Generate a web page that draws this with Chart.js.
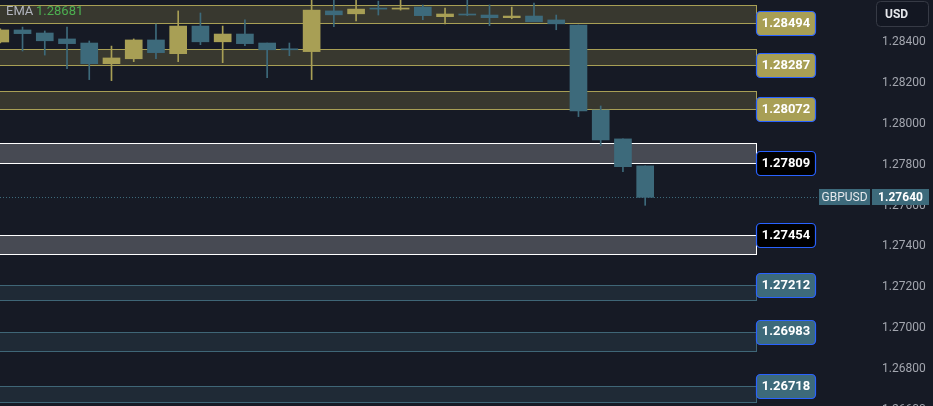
<!DOCTYPE html>
<html><head><meta charset="utf-8">
<script src="https://cdn.jsdelivr.net/npm/chart.js@4/dist/chart.umd.min.js"></script>
<style>html,body{margin:0;padding:0;background:#161a25;overflow:hidden}#wrap{width:933px;height:406px;position:relative}</style>
</head><body><div id="wrap"><canvas id="c" width="933" height="406"></canvas></div>
<script>
// ---- data ----
const candleIndex = [0,1,2,3,4,5,6,7,8,9,10,11,12,13,14,15,16,17,18,19,20,21,22,23,24,25,26,27,28,29];
const opens  = [1.28400,1.28459,1.28444,1.28415,1.28395,1.28294,1.28318,1.28410,1.28343,1.28478,1.28401,1.28439,1.28395,1.28366,1.28353,1.28552,1.28538,1.28566,1.28561,1.28571,1.28524,1.28537,1.28532,1.28519,1.28527,1.28508,1.28483,1.28067,1.27926,1.27794];
const highs  = [1.28464,1.28473,1.28454,1.28473,1.28405,1.28380,1.28415,1.28488,1.28552,1.28542,1.28478,1.28508,1.28395,1.28395,1.28620,1.28615,1.28615,1.28600,1.28610,1.28581,1.28566,1.28610,1.28581,1.28571,1.28591,1.28532,1.28483,1.28087,1.27926,1.27794];
const lows   = [1.28395,1.28356,1.28336,1.28269,1.28216,1.28211,1.28304,1.28318,1.28304,1.28387,1.28299,1.28382,1.28225,1.28333,1.28216,1.28475,1.28503,1.28532,1.28556,1.28509,1.28488,1.28529,1.28480,1.28514,1.28499,1.28460,1.28035,1.27893,1.27766,1.27601];
const closes = [1.28459,1.28441,1.28406,1.28392,1.28294,1.28322,1.28410,1.28348,1.28478,1.28401,1.28439,1.28392,1.28362,1.28362,1.28556,1.28533,1.28561,1.28561,1.28566,1.28529,1.28537,1.28532,1.28519,1.28527,1.28499,1.28489,1.28063,1.27921,1.27790,1.27640];

const zoneTops    = [1.28581,1.28366,1.28160,1.27906,1.27454,1.27212,1.26983,1.26718];
const zoneBottoms = [1.28494,1.28287,1.28072,1.27809,1.27363,1.27138,1.26888,1.26639];
const zoneLabels  = [1.28494,1.28287,1.28072,1.27809,1.27454,1.27212,1.26983,1.26718];
const zoneKinds   = ['gold','gold','gold','white','white','blue','blue','blue'];
const zoneEndIndex = 34;

const yTicks = [1.284,1.282,1.280,1.278,1.276,1.274,1.272,1.270,1.268,1.266];
const lastPrice = 1.27640;
const emaValue = 1.28681;
const symbol = 'GBPUSD';
const currency = 'USD';

// ---- styles ----
const BG = '#161a25';
const GOLD = '#a89f55';
const BLUE = '#3d6a7b';
const zoneStyle = {
  gold:  {fill:'#38382f', stroke:'#a89f55', pill:'#a89f55'},
  white: {fill:'#474a53', stroke:'#ffffff', pill:'#000000'},
  blue:  {fill:'#1f2a36', stroke:'#3f6677', pill:'#3d6a7b'}
};
const FONT = 'Roboto, "Noto Sans", sans-serif';

const candleColors = candleIndex.map((_, i) => closes[i] >= opens[i] ? GOLD : BLUE);
const bodyData = candleIndex.map((x, i) => ({x, y:[opens[i], closes[i]]}));
const wickData = candleIndex.map((x, i) => ({x, y:[lows[i], highs[i]]}));

function roundRect(ctx, x, y, w, h, r) {
  ctx.beginPath();
  ctx.moveTo(x + r, y);
  ctx.lineTo(x + w - r, y);
  ctx.arcTo(x + w, y, x + w, y + r, r);
  ctx.lineTo(x + w, y + h - r);
  ctx.arcTo(x + w, y + h, x + w - r, y + h, r);
  ctx.lineTo(x + r, y + h);
  ctx.arcTo(x, y + h, x, y + h - r, r);
  ctx.lineTo(x, y + r);
  ctx.arcTo(x, y, x + r, y, r);
  ctx.closePath();
}

const bgPlugin = {
  id: 'bg',
  beforeDraw(chart) {
    const ctx = chart.ctx;
    ctx.save(); ctx.fillStyle = BG; ctx.fillRect(0, 0, chart.width, chart.height); ctx.restore();
  }
};

const zonesPlugin = {
  id: 'zones',
  beforeDatasetsDraw(chart) {
    const {ctx, chartArea, scales:{x, y}} = chart;
    const xEnd = Math.round(x.getPixelForValue(zoneEndIndex)) + 0.5;
    ctx.save();
    zoneTops.forEach((t, i) => {
      const st = zoneStyle[zoneKinds[i]];
      const yt = Math.round(y.getPixelForValue(t)) + 0.5;
      const yb = Math.round(y.getPixelForValue(zoneBottoms[i])) + 0.5;
      ctx.fillStyle = st.fill;
      ctx.fillRect(chartArea.left, yt, xEnd - chartArea.left, yb - yt);
      ctx.strokeStyle = st.stroke;
      ctx.lineWidth = 1;
      ctx.strokeRect(chartArea.left - 2, yt, xEnd - chartArea.left + 2, yb - yt);
    });
    // last price dotted line
    const yp = Math.round(y.getPixelForValue(lastPrice)) + 0.5;
    ctx.strokeStyle = '#3d6a7b';
    ctx.setLineDash([1, 2]);
    ctx.beginPath();
    ctx.moveTo(chartArea.left, yp);
    ctx.lineTo(chartArea.right - 53, yp);
    ctx.stroke();
    ctx.restore();
  }
};

const overlayPlugin = {
  id: 'overlay',
  afterDraw(chart) {
    const {ctx, chartArea, scales:{x, y}} = chart;
    const xEnd = Math.round(x.getPixelForValue(zoneEndIndex));
    ctx.save();
    // zone pills
    zoneLabels.forEach((v, i) => {
      const st = zoneStyle[zoneKinds[i]];
      const yc = y.getPixelForValue(v);
      roundRect(ctx, xEnd + 0.5, Math.round(yc - 12) + 0.5, 59, 24, 4);
      ctx.fillStyle = st.pill; ctx.fill();
      ctx.strokeStyle = '#2962ff'; ctx.lineWidth = 1.2; ctx.stroke();
      ctx.fillStyle = '#ffffff';
      ctx.font = 'bold 13px ' + FONT;
      ctx.textAlign = 'center'; ctx.textBaseline = 'middle';
      ctx.fillText(v.toFixed(5), xEnd + 30, yc + 0.5);
    });
    // symbol + last price labels
    const yp = y.getPixelForValue(lastPrice);
    ctx.fillStyle = '#3d6a7b';
    ctx.fillRect(chartArea.right - 53, Math.round(yp - 8), 51, 16);
    ctx.fillRect(chartArea.right, Math.round(yp - 8), 57, 16);
    ctx.fillStyle = '#e6e8ec';
    ctx.font = '12px ' + FONT;
    ctx.textAlign = 'center'; ctx.textBaseline = 'middle';
    ctx.fillText(symbol, chartArea.right - 27.5, yp + 0.5);
    ctx.fillStyle = '#ffffff';
    ctx.font = 'bold 12px ' + FONT;
    ctx.fillText(lastPrice.toFixed(5), chartArea.right + 28.5, yp + 0.5);
    // EMA label
    ctx.textAlign = 'left'; ctx.textBaseline = 'middle';
    ctx.font = '13px ' + FONT;
    ctx.fillStyle = '#b2b5be';
    ctx.fillText('EMA', 6, 12);
    ctx.fillStyle = '#4caf50';
    ctx.fillText(emaValue.toFixed(5), 36, 12);
    // currency box
    roundRect(ctx, 876.5, 1.5, 52, 25, 4);
    ctx.fillStyle = '#131722'; ctx.fill();
    ctx.strokeStyle = '#363a45'; ctx.lineWidth = 1; ctx.stroke();
    ctx.fillStyle = '#e6e8ec';
    ctx.font = 'bold 12px ' + FONT;
    ctx.fillText(currency, 885, 14.5);
    ctx.restore();
  }
};

new Chart(document.getElementById('c'), {
  type: 'bar',
  data: {
    datasets: [
      {label:'wick', data: wickData, backgroundColor: candleColors, barThickness: 1, grouped: false, order: 2, borderWidth: 0, minBarLength: 1},
      {label:'body', data: bodyData, backgroundColor: candleColors, barThickness: 17, grouped: false, order: 1, borderWidth: 0, minBarLength: 1}
    ]
  },
  options: {
    responsive: false,
    devicePixelRatio: 1,
    animation: false,
    layout: {padding: 0},
    plugins: {legend:{display:false}, tooltip:{enabled:false}},
    scales: {
      x: {type:'linear', display:false, offset:false, min:-0.0135, max:39.2},
      y: {
        position:'right', min:1.266192, max:1.286055,
        grid:{display:false, drawTicks:false}, border:{display:false},
        afterBuildTicks: s => { s.ticks = yTicks.map(v => ({value:v})); },
        afterFit: s => { s.width = 61; s.paddingTop = 0; s.paddingBottom = 0; },
        ticks:{padding:10, color:'#a3a6af', font:{size:12, family:FONT}, callback: v => Number(v).toFixed(5)}
      }
    }
  },
  plugins: [bgPlugin, zonesPlugin, overlayPlugin]
});
</script></body></html>
